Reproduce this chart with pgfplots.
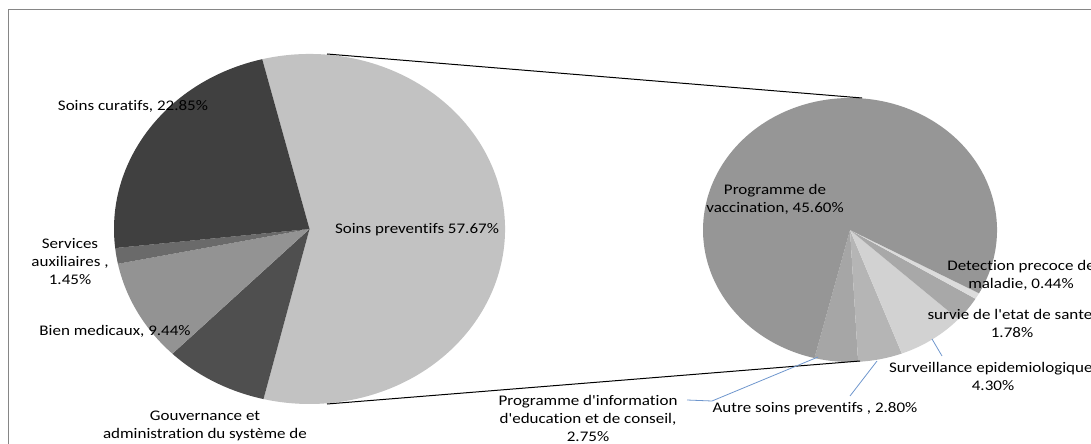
\documentclass[border=0pt]{standalone}
\usepackage{pgfplots}
\pgfplotsset{compat=1.18}
\usepackage{fontspec}
\usepackage{graphicx}
\setmainfont{Carlito}[Ligatures={TeXOff,NoCommon}]
\definecolor{cCur}{HTML}{404040}
\definecolor{cAux}{HTML}{6A6A6A}
\definecolor{cBien}{HTML}{939393}
\definecolor{cGouv}{HTML}{4F4F4F}
\definecolor{cPrev}{HTML}{C2C2C2}
\definecolor{cVac}{HTML}{969696}
\definecolor{cInfo}{HTML}{A6A6A6}
\definecolor{cAutre}{HTML}{B5B5B5}
\definecolor{cSurv}{HTML}{D2D2D2}
\definecolor{cSurvie}{HTML}{A8A8A8}
\definecolor{cDet}{HTML}{DCDCDC}
\definecolor{cLead}{RGB}{110,150,205}
\definecolor{cFrame}{HTML}{868686}
\tikzset{lb/.style={font=\fontsize{11}{13.5}\selectfont, inner sep=0pt, text=black}}
\newcommand{\lbl}[1]{\scalebox{1.16}[1]{\begin{tabular}{@{}c@{}}#1\end{tabular}}}
% cx cy rx(pt) ry(pt) a1 a2 colour
\newcommand{\pieslice}[7]{%
  \fill[#7] (axis cs:#1,#2) -- ++({(#3pt)*cos(#5)},{(#4pt)*sin(#5)})
    arc[start angle=#5, end angle=#6, x radius=#3pt, y radius=#4pt] -- cycle;}
\begin{document}
\begin{tikzpicture}
\path[use as bounding box, clip] (0,0) rectangle (818.25pt,332.25pt);
% left pie: values (%), clockwise from 104 deg
\pgfmathsetmacro\La{104}
\pgfmathsetmacro\Lb{\La-57.67*3.6}% Soins preventifs
\pgfmathsetmacro\Lc{\Lb-8.59*3.6}% Gouvernance
\pgfmathsetmacro\Ld{\Lc-9.44*3.6}% Bien medicaux
\pgfmathsetmacro\Le{\Ld-1.45*3.6}% Services auxiliaires
\pgfmathsetmacro\Lf{\Le-22.85*3.6}% Soins curatifs
% right pie: breakdown of 57.67, counter-clockwise from 256 deg
\pgfmathsetmacro\F{360/57.67}
\pgfmathsetmacro\Ra{256}
\pgfmathsetmacro\Rb{\Ra+2.75*\F}% information
\pgfmathsetmacro\Rc{\Rb+2.80*\F}% autre
\pgfmathsetmacro\Rd{\Rc+4.30*\F}% surveillance
\pgfmathsetmacro\Re{\Rd+1.78*\F}% survie
\pgfmathsetmacro\Rf{\Re+0.44*\F}% detection
\pgfmathsetmacro\Rg{\Rf+45.60*\F}% vaccination
\begin{axis}[hide axis, scale only axis, width=818.25pt, height=332.25pt,
  xmin=0, xmax=1091, ymin=-443, ymax=0, clip=false]
\draw[cFrame, line width=0.75pt] (axis cs:8,-10) rectangle (axis cs:1120,-470);
% left pie
\pieslice{309.5}{-229}{146.625}{131.25}{\La}{\Lb}{cPrev}
\pieslice{309.5}{-229}{146.625}{131.25}{\Lb}{\Lc}{cGouv}
\pieslice{309.5}{-229}{146.625}{131.25}{\Lc}{\Ld}{cBien}
\pieslice{309.5}{-229}{146.625}{131.25}{\Ld}{\Le}{cAux}
\pieslice{309.5}{-229}{146.625}{131.25}{\Le}{\Lf}{cCur}
% right pie
\pieslice{850}{-230}{110.25}{99}{\Ra}{\Rb}{cInfo}
\pieslice{850}{-230}{110.25}{99}{\Rb}{\Rc}{cAutre}
\pieslice{850}{-230}{110.25}{99}{\Rc}{\Rd}{cSurv}
\pieslice{850}{-230}{110.25}{99}{\Rd}{\Re}{cSurvie}
\pieslice{850}{-230}{110.25}{99}{\Re}{\Rf}{cDet}
\pieslice{850}{-230}{110.25}{99}{\Rf}{\Rg}{cVac}
% series lines
\draw[black, line width=0.75pt] (axis cs:327,-54) -- (axis cs:862,-98);
\draw[black, line width=0.75pt] (axis cs:327,-404) -- (axis cs:860,-361);
% leader lines
\draw[cLead, line width=0.6pt] (axis cs:687,-400) -- (axis cs:712,-401) -- (axis cs:818,-357);
\draw[cLead, line width=0.6pt] (axis cs:850,-396) -- (axis cs:877,-361);
\draw[cLead, line width=0.6pt] (axis cs:942,-356) -- (axis cs:932,-339);
% labels
\node[lb] at (axis cs:417,-230) {\lbl{Soins preventifs 57.67\%}};
\node[lb] at (axis cs:133,-107) {\lbl{Soins curatifs, 22.85\%}};
\node[lb] at (axis cs:70,-263) {\lbl{Services\\auxiliaires ,\\1.45\%}};
\node[lb] at (axis cs:115,-332) {\lbl{Bien medicaux, 9.44\%}};
\node[lb] at (axis cs:205,-435) {\lbl{Gouvernance et\\administration du système de\\santé, 8.59\%}};
\node[lb] at (axis cs:775,-200) {\lbl{Programme de\\vaccination, 45.60\%}};
\node[lb] at (axis cs:1021,-276) {\lbl{Detection precoce de\\maladie, 0.44\%}};
\node[lb] at (axis cs:1012,-325) {\lbl{survie de l'etat de sante,\\1.78\%}};
\node[lb] at (axis cs:993,-378) {\lbl{Surveillance epidemiologique,\\4.30\%}};
\node[lb] at (axis cs:815,-409) {\lbl{Autre soins preventifs , 2.80\%}};
\node[lb] at (axis cs:588,-420) {\lbl{Programme d'information\\d'education et de conseil,\\2.75\%}};
\end{axis}
\end{tikzpicture}
\end{document}
